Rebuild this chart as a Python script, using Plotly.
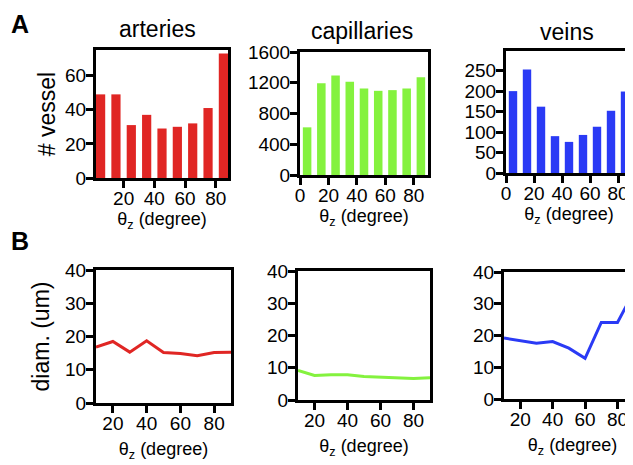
import plotly.graph_objects as go

# ---- data ----
bin_centers = [5, 15, 25, 35, 45, 55, 65, 75, 85]
arteries_counts = [49, 49, 31, 37, 29, 30, 32, 41, 73]
capillaries_counts = [620, 1195, 1294, 1212, 1125, 1095, 1104, 1125, 1273]
veins_counts = [200, 253, 162, 90, 76, 93, 113, 152, 199]

theta = [10, 20, 30, 40, 50, 60, 70, 80, 90]
arteries_diam = [16.8, 18.5, 15.3, 18.7, 15.2, 14.9, 14.2, 15.2, 15.3]
capillaries_diam = [9.2, 7.6, 7.8, 7.8, 7.3, 7.1, 7.0, 6.7, 6.9]
veins_diam = [19.2, 18.4, 17.6, 18.1, 16.0, 12.8, 24.1, 24.1, 33.7]

titles = ["arteries", "capillaries", "veins"]
RED, GREEN, BLUE = "#e02624", "#84f23e", "#2a3af5"

W, H = 633, 465
FONT = "Liberation Sans, Arial, Helvetica, sans-serif"

def fx(a, b):
    return [a / W, min(b / W, 1.0)]

def fy(top, bottom):
    return [1 - bottom / H, 1 - top / H]

fig = go.Figure()

# top row bars
fig.add_trace(go.Bar(x=bin_centers, y=arteries_counts, width=6, marker_color=RED,
                     marker_line_width=0, xaxis="x", yaxis="y"))
fig.add_trace(go.Bar(x=bin_centers, y=capillaries_counts, width=6, marker_color=GREEN,
                     marker_line_width=0, xaxis="x2", yaxis="y2"))
fig.add_trace(go.Bar(x=bin_centers, y=veins_counts, width=6, marker_color=BLUE,
                     marker_line_width=0, xaxis="x3", yaxis="y3"))
# bottom row lines
fig.add_trace(go.Scatter(x=theta, y=arteries_diam, mode="lines", line=dict(color=RED, width=3),
                         xaxis="x4", yaxis="y4"))
fig.add_trace(go.Scatter(x=theta, y=capillaries_diam, mode="lines", line=dict(color=GREEN, width=3),
                         xaxis="x5", yaxis="y5"))
fig.add_trace(go.Scatter(x=theta, y=veins_diam, mode="lines", line=dict(color=BLUE, width=3),
                         xaxis="x6", yaxis="y6"))

axstyle = dict(showline=True, linecolor="black", linewidth=3, mirror=True,
               ticks="outside", ticklen=7, tickwidth=3, tickcolor="black",
               showgrid=False, zeroline=False, automargin=False,
               tickfont=dict(family=FONT, size=19, color="black"))
xstyle = dict(axstyle, ticklabelstandoff=-6)
ystyle = dict(axstyle, ticklabelstandoff=-4)
xtitle_top = dict(text="θ<sub>z</sub> (degree)", font=dict(family=FONT, size=18, color="black"), standoff=0)
xtitle_bot = dict(text="θ<sub>z</sub> (degree)", font=dict(family=FONT, size=18, color="black"), standoff=10)

layout = dict(
    width=W, height=H, margin=dict(l=0, r=0, t=0, b=0, autoexpand=False),
    paper_bgcolor="white", plot_bgcolor="white", showlegend=False,
    font=dict(family=FONT, color="black"),
)

# top row (figure coords = screen coords - 8 px page margin)
layout["xaxis"] = dict(xstyle, domain=fx(88, 220), range=[2, 88], tickvals=[20, 40, 60, 80],
                       anchor="y", title=xtitle_top)
layout["yaxis"] = dict(ystyle, domain=fy(42, 170), range=[0, 75], tickvals=[0, 20, 40, 60],
                       anchor="x", title=dict(text="# vessel", font=dict(family=FONT, size=23), standoff=4))
layout["xaxis2"] = dict(xstyle, domain=fx(292, 420), range=[0, 90], tickvals=[0, 20, 40, 60, 80],
                        anchor="y2", title=xtitle_top)
layout["yaxis2"] = dict(ystyle, domain=fy(44, 167), range=[0, 1600],
                        tickvals=[0, 400, 800, 1200, 1600], anchor="x2")
layout["xaxis3"] = dict(xstyle, domain=fx(498, 624), range=[0, 90], tickvals=[0, 20, 40, 60, 80],
                        anchor="y3", title=xtitle_top)
layout["yaxis3"] = dict(ystyle, domain=fy(43, 165), range=[0, 298],
                        tickvals=[0, 50, 100, 150, 200, 250], anchor="x3")
# bottom row
layout["xaxis4"] = dict(xstyle, domain=fx(88, 223), range=[10, 90], tickvals=[20, 40, 60, 80],
                        anchor="y4", title=xtitle_bot)
layout["yaxis4"] = dict(ystyle, domain=fy(262, 395), range=[0, 40], tickvals=[0, 10, 20, 30, 40],
                        anchor="x4", title=dict(text="diam. (um)", font=dict(family=FONT, size=23), standoff=10))
layout["xaxis5"] = dict(xstyle, domain=fx(290, 422), range=[10, 90], tickvals=[20, 40, 60, 80],
                        anchor="y5", title=xtitle_bot)
layout["yaxis5"] = dict(ystyle, domain=fy(263, 392), range=[0, 40], tickvals=[0, 10, 20, 30, 40],
                        anchor="x5")
layout["xaxis6"] = dict(xstyle, domain=fx(496, 633), range=[10, 94.5], tickvals=[20, 40, 60, 80],
                        anchor="y6", title=xtitle_bot)
layout["yaxis6"] = dict(ystyle, domain=fy(264, 391), range=[0, 40], tickvals=[0, 10, 20, 30, 40],
                        anchor="x6")

fig.update_layout(**layout)

# panel titles
for name, xc, yc in zip(titles, [149, 354, 559], [21, 23, 24]):
    fig.add_annotation(text=name, x=xc / W, y=1 - yc / H, xref="paper", yref="paper",
                       showarrow=False, xanchor="center", yanchor="middle",
                       font=dict(family=FONT, size=23, color="black"))
# panel letters
fig.add_annotation(text="<b>A</b>", x=1 / W, y=1 - 16 / H, xref="paper", yref="paper",
                   showarrow=False, xanchor="left", yanchor="middle",
                   font=dict(family=FONT, size=25, color="black"))
fig.add_annotation(text="<b>B</b>", x=1 / W, y=1 - 233 / H, xref="paper", yref="paper",
                   showarrow=False, xanchor="left", yanchor="middle",
                   font=dict(family=FONT, size=25, color="black"))

fig.write_html("out.html")
